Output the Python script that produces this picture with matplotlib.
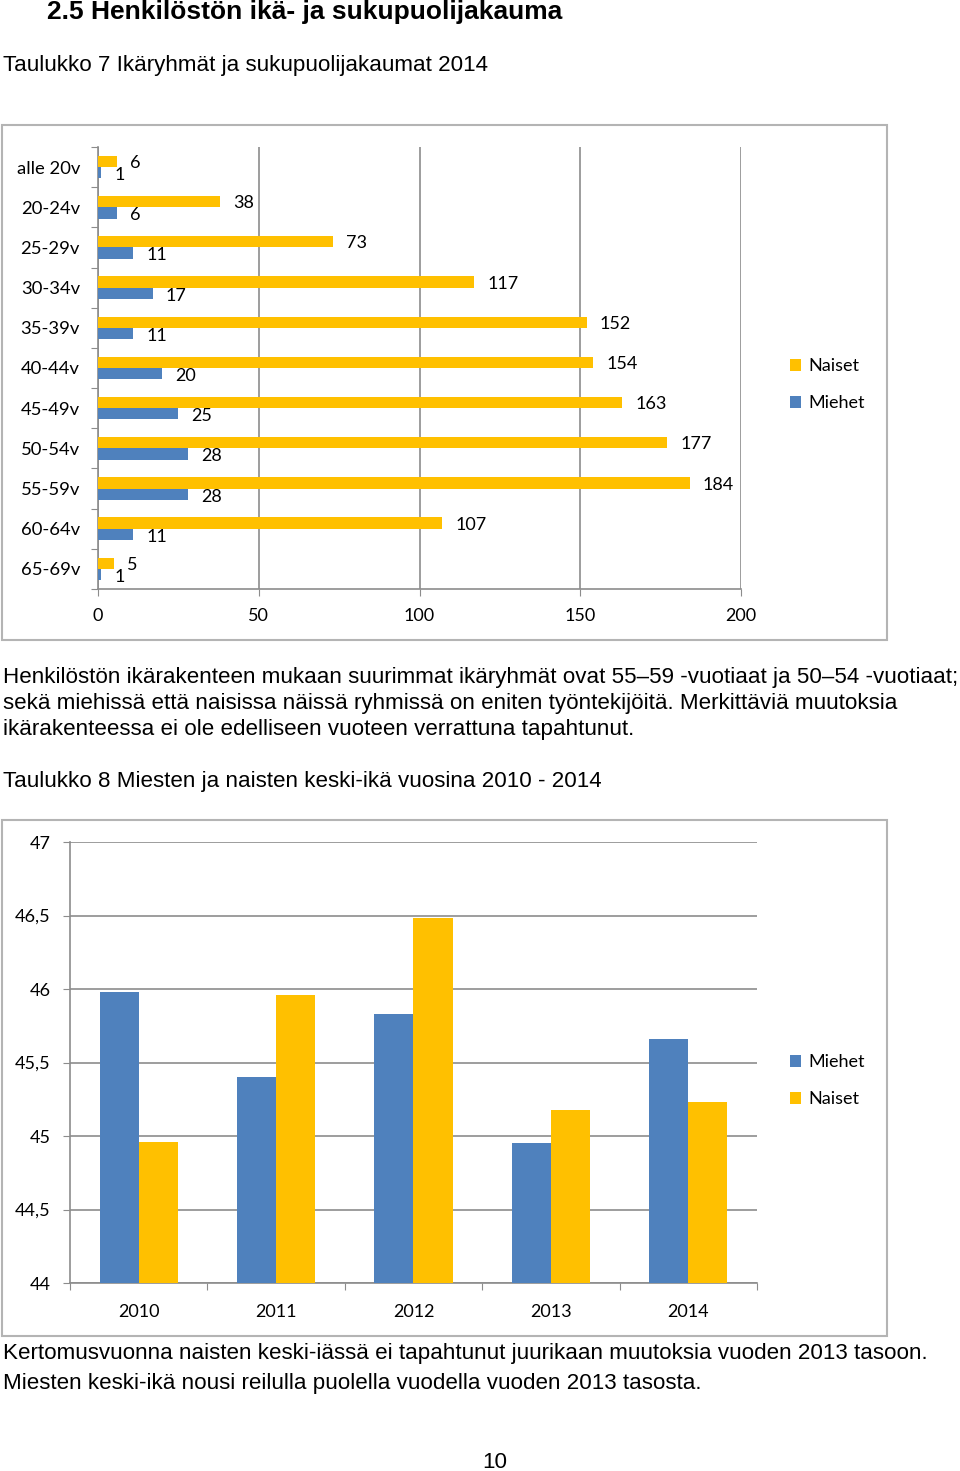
import numpy as np
import matplotlib
matplotlib.use("Agg")
import matplotlib.pyplot as plt
from matplotlib.patches import Rectangle

W, H = 960, 1471

# chart 1 data: age groups 2014
age_groups = ["alle 20v", "20-24v", "25-29v", "30-34v", "35-39v", "40-44v",
              "45-49v", "50-54v", "55-59v", "60-64v", "65-69v"]
naiset_age = [6, 38, 73, 117, 152, 154, 163, 177, 184, 107, 5]
miehet_age = [1, 6, 11, 17, 11, 20, 25, 28, 28, 11, 1]
age_ticks = [0, 50, 100, 150, 200]

# chart 2 data: mean age 2010-2014
years = ["2010", "2011", "2012", "2013", "2014"]
miehet_mean = [45.98, 45.40, 45.83, 44.95, 45.66]
naiset_mean = [44.96, 45.96, 46.48, 45.18, 45.23]
mean_ticks = [44, 44.5, 45, 45.5, 46, 46.5, 47]

BLUE = "#4F81BD"
YELLOW = "#FFC000"
GRID = "#8C8C8C"
FRAME = "#B4B4B4"
CFONT = ["Lato", "DejaVu Sans"]
TFONT = ["Liberation Sans", "DejaVu Sans"]


def box(x0, y0, x1, y1):
    return [x0 / W, 1 - y1 / H, (x1 - x0) / W, (y1 - y0) / H]


def ftext(x, y, s, **kw):
    kw.setdefault("family", TFONT)
    kw.setdefault("fontsize", 16.1)
    kw.setdefault("va", "center")
    fig.text(x / W, 1 - y / H, s, **kw)


def frame(x0, y0, x1, y1):
    fig.patches.append(Rectangle((x0 / W, 1 - y1 / H), (x1 - x0) / W, (y1 - y0) / H,
                                 transform=fig.transFigure, fill=False,
                                 edgecolor=FRAME, linewidth=1.5))


fig = plt.figure(figsize=(W / 100, H / 100), dpi=100)

ftext(47, 12, "2.5 Henkilöstön ikä- ja sukupuolijakauma", fontsize=19, weight="bold")
ftext(3, 66, "Taulukko 7 Ikäryhmät ja sukupuolijakaumat 2014")

# ---- chart 1: horizontal bars
frame(2, 125, 887, 640)
ax1 = fig.add_axes(box(98, 147, 741, 589))
pos = np.arange(len(age_groups))
h = 0.28
bn = ax1.barh(pos - h / 2, naiset_age, height=h, color=YELLOW, label="Naiset", zorder=3)
bm = ax1.barh(pos + h / 2, miehet_age, height=h, color=BLUE, label="Miehet", zorder=3)
for v, p in zip(naiset_age, pos):
    ax1.annotate(str(v), (v, p - h / 2 + 0.04), xytext=(9.5, 0), textcoords="offset points",
                 va="center", ha="left", fontsize=13, family=CFONT)
for v, p in zip(miehet_age, pos):
    ax1.annotate(str(v), (v, p + h / 2 + 0.06), xytext=(9.5, 0), textcoords="offset points",
                 va="center", ha="left", fontsize=13, family=CFONT)
ax1.set_xlim(0, 200)
ax1.set_ylim(len(age_groups) - 0.5, -0.5)
ax1.set_xticks(age_ticks)
ax1.set_xticklabels([str(t) for t in age_ticks], fontsize=13, family=CFONT)
ax1.set_yticks(np.arange(-0.5, len(age_groups), 1))
ax1.set_yticklabels([])
ax1.set_yticks(pos, minor=True)
ax1.set_yticklabels(age_groups, minor=True, fontsize=13.3, family=CFONT)
ax1.tick_params(axis="y", which="major", length=5, color=GRID, direction="out")
ax1.tick_params(axis="y", which="minor", length=0, pad=13)
ax1.tick_params(axis="x", length=5, color=GRID, pad=9)
ax1.grid(axis="x", color=GRID, linewidth=1.2, zorder=0)
for s in ["top", "right"]:
    ax1.spines[s].set_visible(False)
for s in ["left", "bottom"]:
    ax1.spines[s].set_color(GRID)
    ax1.spines[s].set_linewidth(1.2)
ax1.legend(handles=[bn, bm], loc="upper left", bbox_to_anchor=(774 / W, 1 - 342 / H),
           bbox_transform=fig.transFigure, frameon=False, handlelength=0.6,
           handleheight=0.6, handletextpad=0.4, labelspacing=1.17,
           prop={"family": CFONT, "size": 13})

ftext(3, 678, "Henkilöstön ikärakenteen mukaan suurimmat ikäryhmät ovat 55–59 -vuotiaat ja 50–54 -vuotiaat;")
ftext(3, 704, "sekä miehissä että naisissa näissä ryhmissä on eniten työntekijöitä. Merkittäviä muutoksia")
ftext(3, 729, "ikärakenteessa ei ole edelliseen vuoteen verrattuna tapahtunut.")
ftext(3, 781, "Taulukko 8 Miesten ja naisten keski-ikä vuosina 2010 - 2014")

# ---- chart 2: vertical bars
frame(2, 820, 887, 1336)
ax2 = fig.add_axes(box(70, 842, 757, 1283))
xp = np.arange(len(years))
w = 0.284
b2m = ax2.bar(xp - w / 2, [v - 44 for v in miehet_mean], width=w, bottom=44,
              color=BLUE, label="Miehet", zorder=3)
b2n = ax2.bar(xp + w / 2, [v - 44 for v in naiset_mean], width=w, bottom=44,
              color=YELLOW, label="Naiset", zorder=3)
ax2.set_xlim(-0.5, len(years) - 0.5)
ax2.set_ylim(44, 47)
ax2.set_yticks(mean_ticks)
ax2.set_yticklabels([("%g" % t).replace(".", ",") for t in mean_ticks],
                    fontsize=13, family=CFONT)
ax2.set_xticks(np.arange(-0.5, len(years), 1))
ax2.set_xticklabels([])
ax2.set_xticks(xp, minor=True)
ax2.set_xticklabels(years, minor=True, fontsize=13, family=CFONT)
ax2.tick_params(axis="x", which="major", length=5, color=GRID)
ax2.tick_params(axis="x", which="minor", length=0, pad=15)
ax2.tick_params(axis="y", length=5, color=GRID, pad=9)
ax2.grid(axis="y", color=GRID, linewidth=1.2, zorder=0)
for s in ["top", "right"]:
    ax2.spines[s].set_visible(False)
for s in ["left", "bottom"]:
    ax2.spines[s].set_color(GRID)
    ax2.spines[s].set_linewidth(1.2)
ax2.legend(handles=[b2m, b2n], loc="upper left", bbox_to_anchor=(774 / W, 1 - 1038 / H),
           bbox_transform=fig.transFigure, frameon=False, handlelength=0.6,
           handleheight=0.6, handletextpad=0.4, labelspacing=1.17,
           prop={"family": CFONT, "size": 13})

ftext(3, 1353, "Kertomusvuonna naisten keski-iässä ei tapahtunut juurikaan muutoksia vuoden 2013 tasoon.")
ftext(3, 1383, "Miesten keski-ikä nousi reilulla puolella vuodella vuoden 2013 tasosta.")
ftext(495, 1462, "10", ha="center")

fig.savefig("out.png", dpi=100)
